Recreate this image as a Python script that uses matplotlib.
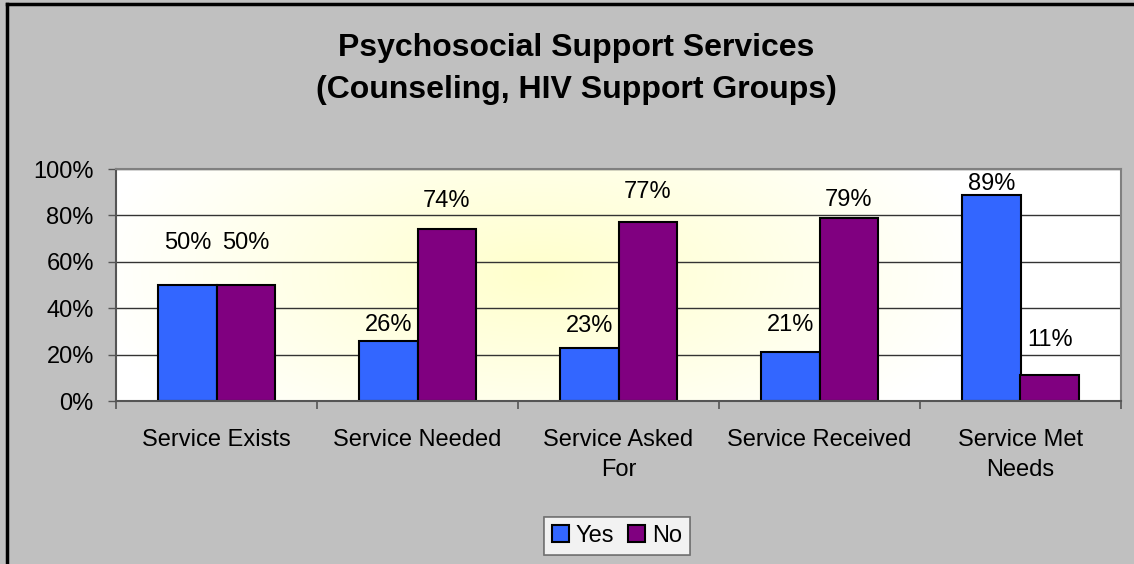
import matplotlib
matplotlib.use("Agg")
import matplotlib.pyplot as plt
import numpy as np
from matplotlib.colors import LinearSegmentedColormap

categories = ["Service Exists", "Service Needed", "Service Asked\nFor",
              "Service Received", "Service Met\nNeeds"]
yes_vals = [50, 26, 23, 21, 89]
no_vals = [50, 74, 77, 79, 11]
yes_labels = ["50%", "26%", "23%", "21%", "89%"]
no_labels = ["50%", "74%", "77%", "79%", "11%"]
yticks = [0, 20, 40, 60, 80, 100]
ytick_labels = ["0%", "20%", "40%", "60%", "80%", "100%"]
title = "Psychosocial Support Services\n(Counseling, HIV Support Groups)"

# style: label offsets (pixels above bar top)
yes_off = [42, 16, 22, 27, 11]
no_off = [42, 28, 30, 18, 35]

plt.rcParams['font.family'] = ['Liberation Sans', 'DejaVu Sans']
FS = 17

W, H = 1134, 564
fig = plt.figure(figsize=(W / 100, H / 100), dpi=100)
fig.patch.set_facecolor("#C0C0C0")

# figure border (top and left visible)
fig.add_artist(plt.Line2D([7 / W, 7 / W], [0, 1 - 4 / H], color="black", lw=2.5, transform=fig.transFigure))
fig.add_artist(plt.Line2D([7 / W, 1], [1 - 4 / H, 1 - 4 / H], color="black", lw=2.5, transform=fig.transFigure))

left, right, top, bottom = 116, 1121, 169, 401
ax = fig.add_axes([left / W, 1 - bottom / H, (right - left) / W, (bottom - top) / H])

n = len(categories)
x = np.arange(n)
ax.set_xlim(-0.5, n - 0.5)
ax.set_ylim(0, 100)

# gradient background
gx = np.linspace(0, 1, 300)
gy = np.linspace(0, 1, 120)
GX, GY = np.meshgrid(gx, gy)
r = np.sqrt(((GX - 0.42) / 0.45) ** 2 + ((GY - 0.55) / 0.9) ** 2)
val = np.clip(1 - r, 0, 1)
cmap = LinearSegmentedColormap.from_list("g", ["#FFFFFF", "#FFFFCC"])
ax.imshow(val, cmap=cmap, extent=[-0.5, n - 0.5, 0, 100], aspect="auto",
          origin="lower", zorder=0, vmin=0, vmax=1)

for yv in yticks[1:]:
    ax.axhline(yv, color="#333333", lw=1.0, zorder=1)

bw = 0.29
ax.bar(x - bw / 2, yes_vals, bw, color="#3366FF", edgecolor="black", lw=1.5, zorder=2, label="Yes")
ax.bar(x + bw / 2, no_vals, bw, color="#800080", edgecolor="black", lw=1.5, zorder=2, label="No")

for i in range(n):
    ax.annotate(yes_labels[i], (x[i] - bw / 2, yes_vals[i]), xytext=(0, yes_off[i] * 0.72),
                textcoords="offset points", ha="center", va="center", fontsize=FS)
    ax.annotate(no_labels[i], (x[i] + bw / 2, no_vals[i]), xytext=(0, no_off[i] * 0.72),
                textcoords="offset points", ha="center", va="center", fontsize=FS)

ax.set_yticks(yticks)
ax.set_yticklabels(ytick_labels, fontsize=FS)
ax.set_xticks(x)
ax.set_xticklabels(categories, fontsize=FS, linespacing=1.5)
ax.tick_params(axis="x", length=0, pad=20)
ax.tick_params(axis="y", length=6, width=1, color="#555555", pad=10)
ax.set_xticks(np.arange(-0.5, n, 1), minor=True)
ax.tick_params(axis="x", which="minor", length=6, width=1.2, color="#555555")
ax.xaxis.set_tick_params(which="minor", direction="out")

for s in ["top", "right"]:
    ax.spines[s].set_color("#808080")
    ax.spines[s].set_linewidth(1.5)
for s in ["left", "bottom"]:
    ax.spines[s].set_color("#555555")
    ax.spines[s].set_linewidth(1.5)

fig.text(576 / W, 1 - 69 / H, title, ha="center", va="center", fontsize=23,
         fontweight="bold", linespacing=1.5)

leg = fig.legend(loc="center", bbox_to_anchor=(617 / W, 1 - 536 / H), ncol=2,
                 fontsize=FS, frameon=True, fancybox=False, handlelength=0.7,
                 handleheight=0.7, handletextpad=0.3, columnspacing=0.6,
                 borderpad=0.35)
leg.get_frame().set_edgecolor("#555555")
leg.get_frame().set_linewidth(1.2)

fig.savefig("out.png", dpi=100, facecolor=fig.get_facecolor())
